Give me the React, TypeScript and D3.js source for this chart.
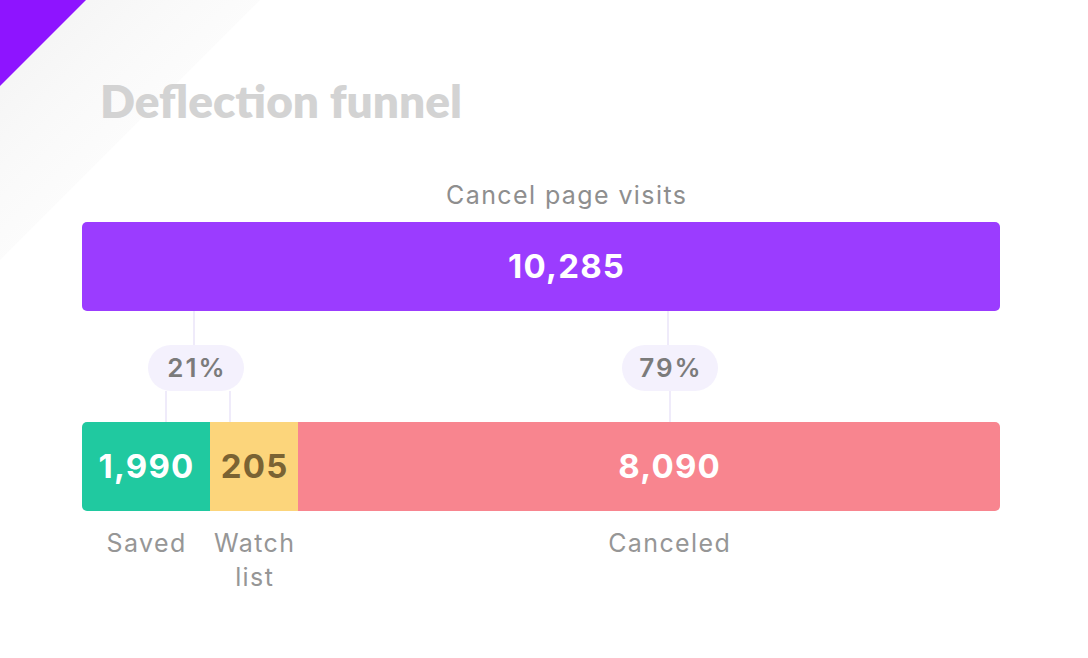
import React from "react";
import * as d3 from "d3";

const TOTAL_LABEL = "Cancel page visits";
const TOTAL_VALUE = 10285;
const segNames = ["Saved", "Watch list", "Canceled"];
const segValues = [1990, 205, 8090];
const segColors = ["#20c9a0", "#fcd57b", "#f8858f"];
const segTextColors = ["#ffffff", "#7a6333", "#ffffff"];
const groupLabels = ["21%", "79%"];
const groupMembers = [[0, 1], [2]];

const W = 1088;
const H = 658;
const FONT = "Inter, 'Noto Sans', sans-serif";

export default function App() {
  const left = 82;
  const clipRight = 1000;
  const barH = 89;
  const topY = 222;
  const botY = 422;

  const cum = [0];
  segValues.forEach((v) => cum.push(cum[cum.length - 1] + v));
  const x = d3.scaleLinear().domain(cum).range([left, 210, 298, 1040]);
  const xTop = d3.scaleLinear().domain([0, TOTAL_VALUE]).range([left, 1050]);
  const fmt = d3.format(",");

  const topCenter = (xTop(0) + xTop(TOTAL_VALUE)) / 2;
  const segs = segValues.map((v, i) => ({
    name: segNames[i],
    v,
    x0: x(cum[i]),
    x1: x(cum[i + 1]),
    color: segColors[i],
    tc: segTextColors[i],
  }));

  const pillW = 96;
  const pillH = 46;
  const pillY = 345;
  const labelLS = 1.4;
  const numLS = 1.2;

  return (
    <svg
      width={W}
      height={H}
      style={{ position: "fixed", left: 0, top: 0, background: "#fff" }}
      fontFamily={FONT}
    >
      <defs>
        <linearGradient id="shade" x1="0" y1="0" x2="1" y2="1">
          <stop offset="0" stopColor="#ececec" />
          <stop offset="1" stopColor="#ffffff" stopOpacity="0" />
        </linearGradient>
        <clipPath id="topClip">
          <rect x={left} y={topY} width={clipRight - left} height={barH} rx={5} />
        </clipPath>
        <clipPath id="botClip">
          <rect x={left} y={botY} width={clipRight - left} height={barH} rx={5} />
        </clipPath>
      </defs>

      <path d="M0,0 L260,0 L0,260 Z" fill="url(#shade)" opacity={0.7} />
      <path d="M0,0 L86,0 L0,86 Z" fill="#8e14ff" />

      <text x={100} y={118} fontSize={46} fontWeight={800} fill="#d3d3d3" fontFamily="Lato, Inter, sans-serif">
        Deflection funnel
      </text>

      <text x={topCenter + labelLS / 2} y={195} textAnchor="middle" dy="0.35em" fontSize={25} letterSpacing={labelLS} fill="#8e8e8e">
        {TOTAL_LABEL}
      </text>
      <g clipPath="url(#topClip)">
        <rect x={xTop(0)} y={topY} width={xTop(TOTAL_VALUE) - xTop(0)} height={barH} fill="#9b3cff" />
      </g>
      <text x={topCenter + numLS / 2} y={topY + barH / 2} dy="0.36em" textAnchor="middle" fontSize={33} letterSpacing={numLS} fontWeight={700} fill="#fff">
        {fmt(TOTAL_VALUE)}
      </text>

      {groupMembers.map((members, gi) => {
        const gx0 = segs[members[0]].x0;
        const gx1 = segs[members[members.length - 1]].x1;
        const cx = (gx0 + gx1) / 2 + (members.length > 1 ? 6 : 1);
        return (
          <g key={gi}>
            <line x1={cx - 2} x2={cx - 2} y1={topY + barH} y2={pillY} stroke="#efebfa" strokeWidth={2} />
            {members.length > 1 ? (
              <>
                <line x1={cx - 30} x2={cx - 30} y1={pillY + pillH} y2={botY} stroke="#efebfa" strokeWidth={2} />
                <line x1={cx + 34} x2={cx + 34} y1={pillY + pillH} y2={botY} stroke="#efebfa" strokeWidth={2} />
              </>
            ) : (
              <line x1={cx} x2={cx} y1={pillY + pillH} y2={botY} stroke="#efebfa" strokeWidth={2} />
            )}
            <rect x={cx - pillW / 2} y={pillY} width={pillW} height={pillH} rx={pillH / 2} fill="#f4f1fd" />
            <text x={cx + 1} y={pillY + pillH / 2} dy="0.36em" textAnchor="middle" fontSize={26} letterSpacing={2} fontWeight={600} fill="#7b7b7b">
              {groupLabels[gi]}
            </text>
          </g>
        );
      })}

      <g clipPath="url(#botClip)">
        {segs.map((s, i) => (
          <rect key={i} x={s.x0} y={botY} width={s.x1 - s.x0} height={barH} fill={s.color} />
        ))}
      </g>
      {segs.map((s, i) => {
        const cx = (s.x0 + s.x1) / 2;
        const lines = s.name.split(" ");
        return (
          <g key={i}>
            <text x={cx + numLS / 2} y={botY + barH / 2} dy="0.36em" textAnchor="middle" fontSize={33} letterSpacing={numLS} fontWeight={700} fill={s.tc}>
              {fmt(s.v)}
            </text>
            {lines.map((ln, li) => (
              <text key={li} x={cx + labelLS / 2} y={543 + li * 34} dy="0.35em" textAnchor="middle" fontSize={25} letterSpacing={labelLS} fill="#969696">
                {ln}
              </text>
            ))}
          </g>
        );
      })}
    </svg>
  );
}
